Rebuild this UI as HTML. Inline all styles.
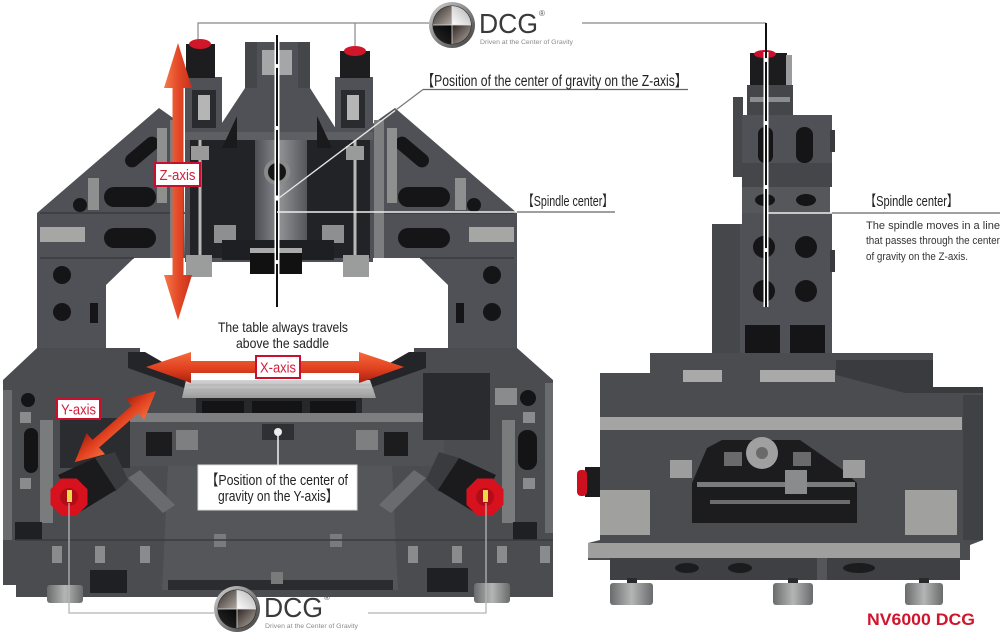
<!DOCTYPE html>
<html><head><meta charset="utf-8">
<style>
html,body{margin:0;padding:0;background:#fff;}
svg{display:block;}
text{font-family:"Liberation Sans","Noto Sans CJK JP",sans-serif;}
</style></head><body>
<svg width="1000" height="640" viewBox="0 0 1000 640" xmlns="http://www.w3.org/2000/svg">
<defs>
<linearGradient id="zG" x1="0" y1="0" x2="1" y2="0"><stop offset="0" stop-color="#f57a4a"/><stop offset="0.5" stop-color="#e44a28"/><stop offset="1" stop-color="#c8301a"/></linearGradient>
<linearGradient id="xG" x1="0" y1="0" x2="0" y2="1"><stop offset="0" stop-color="#f56a3c"/><stop offset="0.55" stop-color="#e0401f"/><stop offset="1" stop-color="#a8200f"/></linearGradient>
<linearGradient id="tG" x1="0" y1="0" x2="0" y2="1"><stop offset="0" stop-color="#d2d3d2"/><stop offset="1" stop-color="#9a9b9a"/></linearGradient>
<linearGradient id="fG" x1="0" y1="0" x2="1" y2="0"><stop offset="0" stop-color="#6a6b6c"/><stop offset="0.5" stop-color="#b4b5b5"/><stop offset="1" stop-color="#6a6b6c"/></linearGradient>
<linearGradient id="dG" x1="0" y1="0" x2="1" y2="0"><stop offset="0" stop-color="#4e4f54"/><stop offset="0.5" stop-color="#8e8f93"/><stop offset="1" stop-color="#55565a"/></linearGradient>
<linearGradient id="ring" x1="0" y1="0" x2="1" y2="1"><stop offset="0" stop-color="#d5d5d5"/><stop offset="1" stop-color="#383838"/></linearGradient>
<linearGradient id="q1" x1="1" y1="1" x2="0" y2="0"><stop offset="0" stop-color="#b3aaa2"/><stop offset="1" stop-color="#2f2a27"/></linearGradient>
<linearGradient id="q2" x1="0" y1="1" x2="1" y2="0"><stop offset="0" stop-color="#ffffff"/><stop offset="1" stop-color="#b0b0b0"/></linearGradient>
<linearGradient id="q3" x1="1" y1="0" x2="0" y2="1"><stop offset="0" stop-color="#050505"/><stop offset="1" stop-color="#2a2a2a"/></linearGradient>
<linearGradient id="q4" x1="0" y1="0" x2="1" y2="1"><stop offset="0" stop-color="#2f2622"/><stop offset="1" stop-color="#b5aca5"/></linearGradient>
</defs>

<!-- ================= DCG connector lines (top) ================= -->
<g stroke="#888" stroke-width="1.2" fill="none">
<polyline points="198,40 198,23 430,23"/>
<line x1="355" y1="23" x2="355" y2="48"/>
<line x1="582" y1="23" x2="766" y2="23"/>
</g>

<!-- ================= LEFT MACHINE: upper frame ================= -->
<g fill="#505156">
<polygon points="183,125 159,108 37,213 37,350 106,350 106,285 134,258 185,258"/>
<polygon points="371,125 395,108 517,213 517,350 448,350 448,285 420,258 369,258"/>
<polygon points="245,42 310,42 310,88 338,132 373,132 373,262 185,262 185,132 216,132 245,88"/>
<rect x="185" y="77" width="37" height="58"/>
<rect x="335" y="77" width="38" height="58"/>
</g>
<!-- beam edges -->
<g stroke="#3a3b3f" stroke-width="1.5">
<line x1="40" y1="213" x2="185" y2="213"/><line x1="40" y1="258" x2="134" y2="258"/>
<line x1="369" y1="213" x2="514" y2="213"/><line x1="420" y1="258" x2="514" y2="258"/>
</g>
<!-- left wing details -->
<g fill="#151517">
<rect x="122" y="145" width="40" height="14" rx="7" transform="rotate(-40 142 152)"/>
<rect x="104" y="187" width="52" height="20" rx="10"/>
<rect x="104" y="228" width="52" height="20" rx="10"/>
<circle cx="80" cy="205" r="7"/>
<circle cx="62" cy="275" r="9"/><circle cx="62" cy="312" r="9"/>
<rect x="90" y="303" width="8" height="20"/>
<!-- right wing -->
<rect x="392" y="145" width="40" height="14" rx="7" transform="rotate(40 412 152)"/>
<rect x="398" y="187" width="52" height="20" rx="10"/>
<rect x="398" y="228" width="52" height="20" rx="10"/>
<circle cx="474" cy="205" r="7"/>
<circle cx="492" cy="275" r="9"/><circle cx="492" cy="312" r="9"/>
<rect x="456" y="303" width="8" height="20"/>
</g>
<g fill="#8e8f8f">
<rect x="157" y="128" width="10" height="75"/><rect x="88" y="178" width="11" height="32"/>
<rect x="387" y="128" width="10" height="75"/><rect x="455" y="178" width="11" height="32"/>
</g>
<g fill="#a6a7a5">
<rect x="40" y="227" width="45" height="15"/><rect x="469" y="227" width="45" height="15"/>
</g>
<g fill="#7d7e80">
<rect x="170" y="120" width="10" height="138"/><rect x="374" y="120" width="10" height="138"/>
</g>

<!-- head details -->
<rect x="185" y="132" width="188" height="8" fill="#5e5f63"/>
<rect x="190" y="140" width="65" height="118" fill="#222326"/>
<rect x="305" y="140" width="65" height="118" fill="#222326"/>
<rect x="255" y="140" width="52" height="115" fill="url(#dG)"/>
<circle cx="277" cy="172" r="13" fill="#8a8a8a"/><circle cx="277" cy="172" r="9" fill="#151515"/>
<rect x="214" y="225" width="22" height="18" fill="#8e8f90"/><rect x="322" y="225" width="22" height="18" fill="#8e8f90"/>
<g stroke="#b8b8b8" stroke-width="3"><line x1="200" y1="140" x2="200" y2="258"/><line x1="355" y1="140" x2="355" y2="258"/></g>
<rect x="191" y="146" width="18" height="14" fill="#9a9a9a"/><rect x="346" y="146" width="18" height="14" fill="#9a9a9a"/>
<rect x="222" y="240" width="112" height="20" fill="#1e1f22"/>
<rect x="250" y="248" width="52" height="26" fill="#111"/><rect x="250" y="248" width="52" height="5" fill="#aaa"/>
<rect x="186" y="255" width="26" height="22" fill="#9b9c9c"/><rect x="343" y="255" width="26" height="22" fill="#9b9c9c"/>
<rect x="192" y="90" width="24" height="38" fill="#2a2b2e"/><rect x="198" y="95" width="12" height="25" fill="#b5b5b5"/>
<rect x="341" y="90" width="24" height="38" fill="#2a2b2e"/><rect x="347" y="95" width="12" height="25" fill="#b5b5b5"/>
<rect x="186" y="44" width="29" height="34" fill="#1d1d1f"/><ellipse cx="200" cy="44" rx="11" ry="5" fill="#d0162b"/>
<rect x="340" y="51" width="30" height="27" fill="#1d1d1f"/><ellipse cx="355" cy="51" rx="11" ry="5" fill="#d0162b"/>
<rect x="262" y="50" width="30" height="25" fill="#a5a6a7"/>
<rect x="245" y="42" width="12" height="46" fill="#45464a"/><rect x="298" y="42" width="12" height="46" fill="#45464a"/>
<polygon points="222,148 237,116 237,148" fill="#1a1a1c"/><polygon points="332,148 317,116 317,148" fill="#1a1a1c"/>

<!-- ================= LEFT MACHINE: lower part ================= -->
<polygon fill="#4b4c50" points="3,380 37,348 140,348 140,356 186,380 370,380 414,356 414,348 517,348 553,380 553,597 16,597 16,585 3,585"/>
<polygon fill="#242528" points="128,352 145,352 190,378 190,390 128,368"/>
<polygon fill="#242528" points="426,352 409,352 364,378 364,390 426,368"/>
<polygon fill="url(#tG)" points="186,380 370,380 376,398 182,398"/>
<g stroke="#a9aaa9" stroke-width="0.8"><line x1="186" y1="385" x2="372" y2="385"/><line x1="185" y1="390" x2="374" y2="390"/><line x1="184" y1="394" x2="375" y2="394"/></g>
<rect x="196" y="398" width="166" height="22" fill="#27282b"/>
<rect x="202" y="401" width="42" height="13" fill="#141416"/><rect x="252" y="401" width="50" height="13" fill="#141416"/><rect x="310" y="401" width="46" height="13" fill="#141416"/>
<rect x="128" y="413" width="318" height="9" fill="#7d7e80"/>
<rect x="130" y="422" width="314" height="44" fill="#505155"/>
<rect x="146" y="432" width="26" height="24" fill="#1c1c1f"/><rect x="384" y="432" width="24" height="24" fill="#1c1c1f"/>
<rect x="176" y="430" width="22" height="20" fill="#7e7f80"/><rect x="356" y="430" width="22" height="20" fill="#7e7f80"/>
<rect x="262" y="424" width="32" height="16" fill="#2f3033"/>
<polygon fill="#55565a" points="168,466 392,466 398,590 162,590"/>
<rect x="214" y="534" width="12" height="13" fill="#7a7b7c"/><rect x="330" y="534" width="12" height="13" fill="#7a7b7c"/>
<rect x="168" y="580" width="225" height="10" fill="#2b2c2f"/><rect x="271" y="572" width="12" height="12" fill="#7a7a7a"/>
<!-- left tower -->
<rect x="3" y="390" width="9" height="150" fill="#6a6b6e"/>
<circle cx="28" cy="400" r="7" fill="#141416"/>
<rect x="24" y="428" width="14" height="45" rx="7" fill="#141416"/>
<rect x="20" y="412" width="11" height="11" fill="#8a8b8c"/><rect x="20" y="478" width="11" height="11" fill="#8a8b8c"/>
<rect x="40" y="420" width="13" height="103" fill="#7a7b7d"/>
<rect x="60" y="418" width="70" height="50" fill="#2b2c2f"/>
<rect x="15" y="522" width="27" height="18" fill="#1f2023"/>
<!-- right tower -->
<rect x="545" y="383" width="8" height="150" fill="#6a6b6e"/>
<circle cx="528" cy="398" r="8" fill="#141416"/>
<rect x="518" y="430" width="19" height="40" rx="9" fill="#141416"/>
<rect x="523" y="412" width="12" height="11" fill="#8a8b8c"/><rect x="523" y="478" width="12" height="11" fill="#8a8b8c"/>
<rect x="502" y="420" width="13" height="103" fill="#7a7b7d"/><rect x="495" y="388" width="22" height="17" fill="#8a8b8c"/>
<rect x="423" y="373" width="67" height="67" fill="#2a2b2e"/>
<rect x="513" y="522" width="24" height="18" fill="#1f2023"/>
<!-- base band -->
<line x1="16" y1="540" x2="553" y2="540" stroke="#3a3b3e" stroke-width="1.5"/>
<g fill="#8a8b8c">
<rect x="52" y="546" width="10" height="17"/><rect x="95" y="546" width="10" height="17"/><rect x="140" y="546" width="10" height="17"/>
<rect x="408" y="546" width="10" height="17"/><rect x="452" y="546" width="10" height="17"/><rect x="497" y="546" width="10" height="17"/><rect x="540" y="546" width="10" height="17"/>
</g>
<rect x="90" y="570" width="37" height="23" fill="#1f2023"/><rect x="427" y="568" width="41" height="24" fill="#1f2023"/>
<!-- y rails -->
<polygon fill="#6a6b6e" points="128,478 140,470 175,505 163,513"/>
<polygon fill="#6a6b6e" points="426,478 414,470 379,505 391,513"/>
<!-- motors -->
<polygon fill="#3a3b3e" points="95,458 115,452 128,480 115,492"/>
<polygon fill="#1b1b1d" points="58,475 95,458 116,490 80,512"/>
<polygon fill="#3a3b3e" points="459,458 439,452 426,480 439,492"/>
<polygon fill="#1b1b1d" points="496,475 459,458 438,490 474,512"/>
<polygon fill="#d8111f" points="87.5,489.3 76.7,478.5 61.3,478.5 50.5,489.3 50.5,504.7 61.3,515.5 76.7,515.5 87.5,504.7"/>
<circle cx="69" cy="497" r="9" fill="#b00d18"/><rect x="67" y="490" width="5" height="12" fill="#f1d84a"/>
<polygon fill="#d8111f" points="503.5,489.3 492.7,478.5 477.3,478.5 466.5,489.3 466.5,504.7 477.3,515.5 492.7,515.5 503.5,504.7"/>
<circle cx="485" cy="497" r="9" fill="#b00d18"/><rect x="483" y="490" width="5" height="12" fill="#f1d84a"/>
<!-- feet -->
<rect x="47" y="585" width="36" height="18" rx="3" fill="url(#fG)"/>
<rect x="474" y="583" width="36" height="20" rx="3" fill="url(#fG)"/>

<!-- Y-center marker -->
<line x1="278" y1="432" x2="278" y2="466" stroke="#f2f2f2" stroke-width="1.5"/>
<circle cx="278" cy="432" r="4" fill="#ececec"/>

<!-- motor connector lines -->
<g stroke="#b5b5b5" stroke-width="1.3" fill="none">
<polyline points="69,503 69,613 214,613"/>
<polyline points="486,503 486,613 368,613"/>
</g>

<!-- center line left -->
<line x1="277" y1="35" x2="277" y2="307" stroke="#fff" stroke-width="5"/>
<line x1="277" y1="35" x2="277" y2="307" stroke="#111" stroke-width="2"/>
<g fill="#fff"><circle cx="277" cy="66" r="2"/><circle cx="277" cy="128" r="2"/><circle cx="277" cy="198" r="2.6"/><circle cx="277" cy="262" r="2"/></g>

<!-- Z pointer & spindle underline (left) -->
<line x1="423" y1="89.5" x2="395" y2="110.6" stroke="#777" stroke-width="1.2"/>
<line x1="395" y1="110.6" x2="279" y2="198" stroke="#e6e6e6" stroke-width="1.4"/>
<line x1="423" y1="89.5" x2="688" y2="89.5" stroke="#666" stroke-width="1.2"/>
<line x1="277" y1="212" x2="517" y2="212" stroke="#eeeeee" stroke-width="1.4"/>
<line x1="517" y1="212" x2="615" y2="212" stroke="#666" stroke-width="1.2"/>

<!-- ================= ARROWS ================= -->
<polygon fill="url(#zG)" points="178,43 192,88 183.5,88 183.5,275 192,275 178,320 164,275 172.5,275 172.5,88 164,88"/>
<polygon fill="url(#xG)" points="146,367 191,352 191,361 359,361 359,352 404,367 359,383 359,373 191,373 191,383"/>
<polygon fill="url(#xG)" transform="translate(156,391) rotate(138.8)" points="0,0 28,-14 28,-5 80,-5 80,-14 108,0 80,14 80,5 28,5 28,14"/>

<!-- axis labels -->
<g fill="#fff" stroke="#c8102e" stroke-width="2">
<rect x="155" y="163" width="45" height="23"/>
<rect x="256" y="356" width="44" height="22"/>
<rect x="57" y="399" width="43" height="20"/>
</g>
<g fill="#cf1f3d" font-size="15" text-anchor="middle">
<text x="177.5" y="180" textLength="36" lengthAdjust="spacingAndGlyphs">Z-axis</text>
<text x="278" y="372.5" textLength="36" lengthAdjust="spacingAndGlyphs">X-axis</text>
<text x="78.5" y="414.5" textLength="35" lengthAdjust="spacingAndGlyphs">Y-axis</text>
</g>

<!-- texts left -->
<text x="422" y="86" font-size="15.5" fill="#222" textLength="265" lengthAdjust="spacingAndGlyphs">【Position of the center of gravity on the Z-axis】</text>
<text x="523" y="206" font-size="14.5" fill="#222" textLength="90" lengthAdjust="spacingAndGlyphs">【Spindle center】</text>
<text x="218" y="332" font-size="14" fill="#222" textLength="130" lengthAdjust="spacingAndGlyphs">The table always travels</text>
<text x="236" y="348" font-size="14" fill="#222" textLength="93" lengthAdjust="spacingAndGlyphs">above the saddle</text>
<rect x="198" y="465" width="159" height="45" fill="#fff" stroke="#dcdcdc" stroke-width="1"/>
<text x="206" y="485" font-size="15" fill="#222" textLength="142" lengthAdjust="spacingAndGlyphs">【Position of the center of</text>
<text x="218" y="501" font-size="15" fill="#222" textLength="120" lengthAdjust="spacingAndGlyphs">gravity on the Y-axis】</text>

<!-- ================= RIGHT MACHINE ================= -->
<!-- column -->
<rect x="750" y="53" width="37" height="34" fill="#1c1c1e"/>
<ellipse cx="765" cy="54" rx="11" ry="4" fill="#c8102e"/>
<rect x="786" y="55" width="6" height="44" fill="#9a9b9c"/>
<rect x="747" y="85" width="46" height="30" fill="#45464a"/>
<rect x="750" y="97" width="40" height="5" fill="#8b8c8d"/>
<rect x="733" y="97" width="10" height="80" fill="#46474b"/>
<rect x="742" y="115" width="90" height="72" fill="#505156"/>
<rect x="742" y="163" width="90" height="24" fill="#45464a"/>
<rect x="742" y="187" width="88" height="26" fill="#56575b"/>
<polygon fill="#505156" points="742,213 832,213 832,363 712,363 712,224 742,224"/>
<rect x="712" y="224" width="28" height="139" fill="#46474b"/>
<g fill="#151517">
<rect x="758" y="127" width="15" height="36" rx="7"/><rect x="796" y="127" width="17" height="36" rx="8"/>
<ellipse cx="765" cy="200" rx="10" ry="6"/><ellipse cx="806" cy="200" rx="10" ry="6"/>
<circle cx="764" cy="247" r="11"/><circle cx="806" cy="247" r="11"/>
<circle cx="764" cy="291" r="11"/><circle cx="806" cy="291" r="11"/>
<rect x="745" y="325" width="35" height="35"/><rect x="790" y="325" width="35" height="35"/>
</g>
<rect x="830" y="130" width="5" height="22" fill="#3a3b3e"/><rect x="830" y="250" width="5" height="22" fill="#3a3b3e"/>

<!-- bed -->
<polygon fill="#4b4c50" points="600,373 650,373 650,353 933,353 933,387 983,387 983,540 970,545 970,560 960,560 960,580 610,580 610,560 588,560 588,543 600,540"/>
<polygon fill="#3a3b3f" points="836,375 905,393 983,393 983,387 933,387 933,360 836,360"/>
<rect x="683" y="370" width="39" height="12" fill="#a8a9a8"/><rect x="760" y="370" width="75" height="12" fill="#a8a9a8"/>
<rect x="600" y="417" width="362" height="13" fill="#a4a5a3"/>
<polygon fill="#1c1c1e" points="692,523 692,483 707,448 722,440 800,440 843,470 857,483 857,523"/>
<circle cx="762" cy="453" r="16" fill="#a0a0a0"/><circle cx="762" cy="453" r="6" fill="#6a6a6a"/>
<rect x="724" y="452" width="18" height="14" fill="#6a6a6c"/><rect x="793" y="452" width="18" height="14" fill="#6a6a6c"/>
<rect x="697" y="482" width="158" height="5" fill="#7a7b7c"/><rect x="710" y="500" width="140" height="4" fill="#6b6c6d"/>
<rect x="785" y="470" width="22" height="24" fill="#8a8b8c"/>
<rect x="670" y="460" width="22" height="18" fill="#9c9d9c"/><rect x="843" y="460" width="22" height="18" fill="#9c9d9c"/>
<rect x="600" y="490" width="50" height="45" fill="#a0a19f"/><rect x="905" y="490" width="52" height="45" fill="#a0a19f"/>
<rect x="963" y="395" width="20" height="145" fill="#404145"/>
<rect x="588" y="543" width="372" height="15" fill="#9fa09e"/>
<rect x="610" y="558" width="350" height="22" fill="#3f4044"/>
<g fill="#1c1c1e"><ellipse cx="687" cy="568" rx="12" ry="5"/><ellipse cx="740" cy="568" rx="12" ry="5"/><ellipse cx="859" cy="568" rx="16" ry="5"/></g>
<rect x="817" y="558" width="10" height="22" fill="#55565a"/>
<rect x="627" y="578" width="10" height="7" fill="#2a2a2a"/><rect x="788" y="578" width="10" height="7" fill="#2a2a2a"/><rect x="919" y="578" width="10" height="7" fill="#2a2a2a"/>
<rect x="610" y="583" width="43" height="22" rx="3" fill="url(#fG)"/>
<rect x="773" y="583" width="40" height="22" rx="3" fill="url(#fG)"/>
<rect x="905" y="583" width="38" height="22" rx="3" fill="url(#fG)"/>
<rect x="585" y="467" width="15" height="30" fill="#1c1c1e"/>
<rect x="577" y="470" width="10" height="26" rx="4" fill="#cc1020"/>

<!-- right center line -->
<line x1="766" y1="52" x2="766" y2="307" stroke="#fff" stroke-width="5"/>
<line x1="766" y1="23" x2="766" y2="307" stroke="#111" stroke-width="2"/>
<g fill="#fff"><circle cx="766" cy="60" r="2"/><circle cx="766" cy="123" r="2"/><circle cx="766" cy="187" r="2"/><circle cx="766" cy="250" r="2"/></g>
<line x1="768" y1="213" x2="832" y2="213" stroke="#eeeeee" stroke-width="1.4"/>
<line x1="832" y1="213" x2="1000" y2="213" stroke="#666" stroke-width="1.2"/>

<!-- right texts -->
<text x="865" y="206" font-size="14.5" fill="#222" textLength="93" lengthAdjust="spacingAndGlyphs">【Spindle center】</text>
<g font-size="11" fill="#333">
<text x="866" y="229" textLength="134" lengthAdjust="spacingAndGlyphs">The spindle moves in a line</text>
<text x="866" y="244" textLength="134" lengthAdjust="spacingAndGlyphs">that passes through the center</text>
<text x="866" y="260" textLength="102" lengthAdjust="spacingAndGlyphs">of gravity on the Z-axis.</text>
</g>
<text x="867" y="625" font-size="17" font-weight="bold" fill="#d0152c" textLength="108" lengthAdjust="spacingAndGlyphs">NV6000 DCG</text>

<!-- ================= DCG LOGOS ================= -->
<g transform="translate(452,25)">
<circle r="23" fill="url(#ring)"/><circle r="19.5" fill="#222"/>
<path d="M0,0 L-19,0 A19,19 0 0 1 0,-19 Z" fill="url(#q1)"/>
<path d="M0,0 L0,-19 A19,19 0 0 1 19,0 Z" fill="url(#q2)"/>
<path d="M0,0 L19,0 A19,19 0 0 1 0,19 Z" fill="url(#q4)"/>
<path d="M0,0 L0,19 A19,19 0 0 1 -19,0 Z" fill="url(#q3)"/>
<line x1="-19" y1="0" x2="19" y2="0" stroke="#e0e0e0" stroke-width="0.8"/>
<line x1="0" y1="-19" x2="0" y2="19" stroke="#e0e0e0" stroke-width="0.8"/>
</g>
<text x="479" y="33" font-size="28" fill="#3a3a3a" textLength="59" lengthAdjust="spacingAndGlyphs">DCG</text>
<text x="539" y="16" font-size="8" fill="#555">®</text>
<text x="480" y="44" font-size="6" fill="#8a8a8a" textLength="93" lengthAdjust="spacingAndGlyphs">Driven at the Center of Gravity</text>

<g transform="translate(237,609)">
<circle r="23" fill="url(#ring)"/><circle r="19.5" fill="#222"/>
<path d="M0,0 L-19,0 A19,19 0 0 1 0,-19 Z" fill="url(#q1)"/>
<path d="M0,0 L0,-19 A19,19 0 0 1 19,0 Z" fill="url(#q2)"/>
<path d="M0,0 L19,0 A19,19 0 0 1 0,19 Z" fill="url(#q4)"/>
<path d="M0,0 L0,19 A19,19 0 0 1 -19,0 Z" fill="url(#q3)"/>
<line x1="-19" y1="0" x2="19" y2="0" stroke="#e0e0e0" stroke-width="0.8"/>
<line x1="0" y1="-19" x2="0" y2="19" stroke="#e0e0e0" stroke-width="0.8"/>
</g>
<text x="264" y="617" font-size="28" fill="#3a3a3a" textLength="59" lengthAdjust="spacingAndGlyphs">DCG</text>
<text x="324" y="600" font-size="8" fill="#555">®</text>
<text x="265" y="628" font-size="6" fill="#8a8a8a" textLength="93" lengthAdjust="spacingAndGlyphs">Driven at the Center of Gravity</text>
</svg>
</body></html>
